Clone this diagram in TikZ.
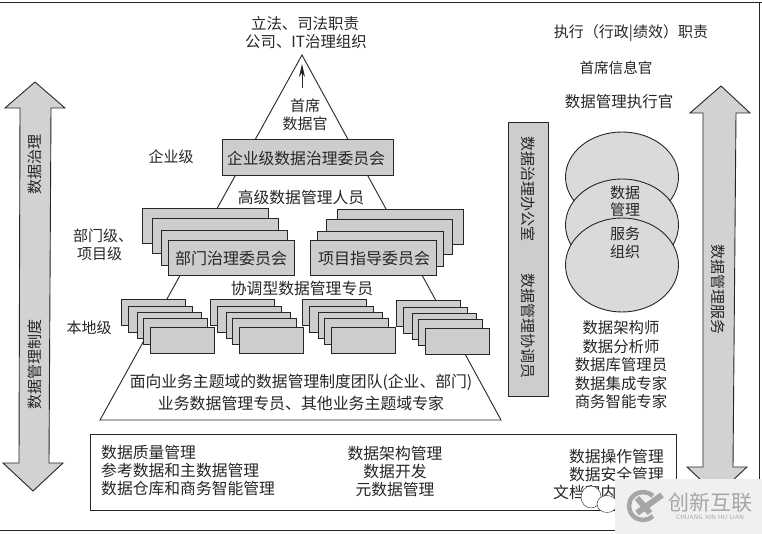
\documentclass[tikz,border=0pt]{standalone}
\usepackage{fontspec}
\setmainfont{Noto Sans CJK SC}
\definecolor{ink}{HTML}{262626}
\definecolor{boxgray}{HTML}{CDCDCD}
\definecolor{softgray}{HTML}{DADADA}
\definecolor{arrowgray}{HTML}{D2D2D2}
\definecolor{markgray}{HTML}{A6A6A6}
\tikzset{
  lbl/.style={inner sep=0pt,text=ink,font=\fontsize{15}{18}\selectfont,align=center},
  lblb/.style={lbl,font=\fontsize{15.8}{18}\selectfont},
  edgeline/.style={draw=ink,line width=0.9pt},
  graybox/.style={edgeline,fill=boxgray,inner sep=0pt,anchor=north west},
  deptbox/.style={graybox,minimum width=126pt,minimum height=35pt},
  localbox/.style={graybox,minimum width=64pt,minimum height=26pt},
  blob/.style={edgeline,fill=softgray,ellipse,minimum width=113pt,inner sep=0pt},
  bigarrow/.style={edgeline,fill=arrowgray,line join=miter},
}
\usetikzlibrary{shapes.geometric,arrows.meta}
\begin{document}
\begin{tikzpicture}[x=1pt,y=-1pt]
\useasboundingbox (0,0) rectangle (762,534);
% page frame
\draw[edgeline] (0,2) -- (762,2);
\draw[edgeline] (759,2) -- (759,480);
\draw[edgeline] (0,530) -- (620,530);
% pyramid
\draw[edgeline,fill=white,line join=miter] (302,55) -- (100,420) -- (501,420) -- cycle;
% enterprise box
\node[graybox,minimum width=171pt,minimum height=36pt] (ent) at (222,139) {};
\node[lbl,font=\fontsize{15.8}{18}\selectfont] (entT) at (306,158) {企业级数据治理委员会};
% small arrow in apex
\coordinate (arrowBase) at (302,88);
\coordinate (arrowTip) at (302,64);
\draw[edgeline,-{Stealth[length=13pt,width=6pt]}] (arrowBase) -- (arrowTip);
% dept stacks
\node[deptbox] (d1) at (142,208) {};
\node[deptbox] (d2) at (152,218) {};
\node[deptbox] (d3) at (161,230) {};
\node[deptbox] (d4) at (168,240) {};
\node[deptbox] (p1) at (337,209) {};
\node[deptbox] (p2) at (326,219) {};
\node[deptbox] (p3) at (317,231) {};
\node[deptbox] (p4) at (310,240) {};
\node[lbl,font=\fontsize{16}{18}\selectfont] (d4T) at (231,258) {部门治理委员会};
\node[lbl,font=\fontsize{16}{18}\selectfont] (p4T) at (374,258) {项目指导委员会};
% local stacks
\foreach \s/\ox/\oy in {a/121/299,b/210/299,c/302/299,f/396/300}{
  \node[localbox] (\s1) at (\ox,\oy) {};
  \node[localbox] (\s2) at (\ox+7,\oy+7) {};
  \node[localbox] (\s3) at (\ox+16,\oy+13) {};
  \node[localbox] (\s4) at (\ox+22,\oy+19) {};
  \node[localbox] (\s5) at (\ox+29,\oy+28) {};
}
% pyramid labels
\node[lbl,font=\fontsize{15.4}{18}\selectfont] (t1) at (305,24) {立法、司法职责};
\node[lbl,font=\fontsize{15.4}{18}\selectfont] (t2) at (306,42) {公司、IT治理组织};
\node[lbl] (cdo) at (305,115) {首席\\[-0.5pt]数据官};
\node[lbl] (lv1) at (171,157) {企业级};
\node[lblb] (sen) at (301,197) {高级数据管理人员};
\node[lbl,anchor=west] (lv2a) at (73,236) {部门级、};
\node[lbl,anchor=west] (lv2b) at (77,254) {项目级};
\node[lblb] (coord) at (302,288) {协调型数据管理专员};
\node[lbl] (lv3) at (89,328) {本地级};
\node[lblb] (base1) at (301,382) {面向业务主题域的数据管理制度团队(企业、部门)};
\node[lbl,font=\fontsize{15.9}{18}\selectfont] (base2) at (301,403) {业务数据管理专员、其他业务主题域专家};
% left arrow
\draw[bigarrow] (35,82) -- (65,108) -- (51,108) -- (49,463) -- (63,463) -- (33,491) -- (3,463) -- (19,463) -- (20,108) -- (5,108) -- cycle;
\node[lbl,rotate=90] (la1) at (35,165) {数据治理};
\node[lbl,rotate=90] (la2) at (35,364) {数据管理制度};
% office bar
\node[graybox,minimum width=40pt,minimum height=274pt] (office) at (508,122) {};
\node[lbl,rotate=-90] (of1) at (528,189) {数据治理办公室};
\node[lbl,rotate=-90] (of2) at (528,326) {数据管理协调员};
% right arrow
\draw[bigarrow] (721,86) -- (750,113) -- (736,113) -- (733,467) -- (747,467) -- (717,495) -- (687,467) -- (703,467) -- (703,113) -- (690,113) -- cycle;
\node[lbl,rotate=-90] (ra) at (718,290) {数据管理服务};
% right column
\node[lbl] (r1) at (631,33) {执行（行政|绩效）职责};
\node[lbl,font=\fontsize{14.6}{18}\selectfont] (r2) at (616,68) {首席信息官};
\node[lbl,font=\fontsize{15.5}{18}\selectfont] (r3) at (619,102) {数据管理执行官};
\node[blob,minimum height=90pt] (e1) at (622,177) {};
\node[blob,minimum height=92pt] (e2) at (622,225) {};
\node[blob,minimum height=94pt] (e3) at (622,265) {};
\node[lbl] (eT) at (625,222) {数据\\[-0.5pt]管理\\[6pt]服务\\[-0.5pt]组织};
\node[lbl,font=\fontsize{15.4}{18}\selectfont] (roles) at (621,365) {数据架构师\\[0.5pt]数据分析师\\[0.5pt]数据库管理员\\[0.5pt]数据集成专家\\[0.5pt]商务智能专家};
% bottom panel
\node[edgeline,fill=white,inner sep=0pt,minimum width=586pt,minimum height=76pt,anchor=north west] (panel) at (90,434) {};
\node[lblb,align=left,anchor=west] (c1) at (101,471) {数据质量管理\\参考数据和主数据管理\\数据仓库和商务智能管理};
\node[lblb] (c2) at (395,471) {数据架构管理\\数据开发\\元数据管理};
\node[lblb,align=right,anchor=east] (c3) at (664,474) {数据操作管理\\数据安全管理\\文档和内容管理};
% watermark
\node[draw=ink,line width=0.4pt,fill=white,ellipse,minimum width=20pt,minimum height=22pt,inner sep=0pt] (wc1) at (591,497) {};
\node[draw=ink,line width=0.4pt,fill=white,ellipse,minimum width=20pt,minimum height=17pt,inner sep=0pt] (wc2) at (607,504) {};
\fill[white!94!black] (615,479) rectangle (762,534);
\draw[markgray,line width=4.5pt] (643,506) ++(45:14pt) arc[start angle=45,end angle=315,radius=14pt];
\draw[markgray,line width=6pt] (637,498) -- (650,513);
\draw[markgray,line width=6pt] (637,513) -- (662,495);
\node[inner sep=0pt,text=markgray,font=\fontsize{21}{22}\selectfont] (wm1) at (710,503) {创新互联};
\node[inner sep=0pt,text=markgray,font=\sffamily\fontsize{6.2}{7}\selectfont] (wm2) at (710,517) {CHUANG XIN HU LIAN};
\end{tikzpicture}
\end{document}
